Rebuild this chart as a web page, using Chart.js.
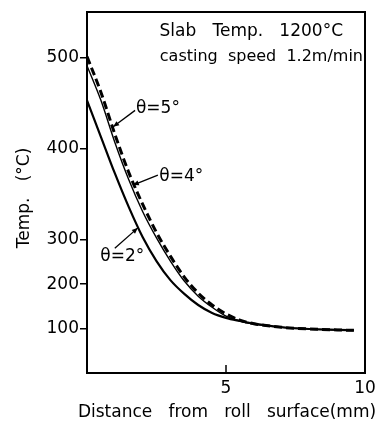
<!DOCTYPE html>
<html>
<head>
<meta charset="utf-8">
<script src="https://cdn.jsdelivr.net/npm/chart.js@4.4.1/dist/chart.umd.min.js"></script>
<style>
  html, body { margin: 0; padding: 0; background: #fff; }
  #wrap { width: 387px; height: 421px; }
</style>
</head>
<body>
<div id="wrap"><canvas id="c" width="387" height="421"></canvas></div>
<script>
// ---- data ----
const distance = [0, 0.5, 1, 1.5, 2, 2.5, 3, 3.5, 4, 4.5, 5, 5.5, 6, 7, 8, 9, 9.6];
const theta2 = [453, 413, 373, 336, 303, 252, 209, 178, 153, 135, 124, 117, 111, 103, 99, 97, 96];
const theta4 = [491, 453, 407, 366, 331, 302, 252, 207, 173, 148, 128, 117, 110, 103, 99, 97, 96];
const theta5 = [501, 462, 416, 374, 339, 308, 263, 216, 180, 153, 133, 119, 111, 103, 99, 97, 96];
const yTicks = [100, 200, 300, 400, 500];
const xTicks = [5, 10];
const seriesNames = ['θ=2°', 'θ=4°', 'θ=5°'];
const noteLines = ['Slab   Temp.   1200°C', 'casting  speed  1.2m/min'];
const xTitle = 'Distance   from   roll   surface(mm)';
const yTitle = 'Temp.   (°C)  ';

// y axis of the original figure is stretched above 300 °C
const Y_BREAK = 300, Y_STRETCH = 2.05;

class BrokenLinearScale extends Chart.LinearScale {
  _t(v) { return v <= Y_BREAK ? v : Y_BREAK + (v - Y_BREAK) * Y_STRETCH; }
  _tInv(t) { return t <= Y_BREAK ? t : Y_BREAK + (t - Y_BREAK) / Y_STRETCH; }
  getPixelForValue(value) {
    if (value === null || value === undefined || isNaN(value)) return NaN;
    const t0 = this._t(this.min), t1 = this._t(this.max);
    return this.getPixelForDecimal((this._t(value) - t0) / (t1 - t0));
  }
  getValueForPixel(pixel) {
    const t0 = this._t(this.min), t1 = this._t(this.max);
    return this._tInv(t0 + this.getDecimalForPixel(pixel) * (t1 - t0));
  }
}
BrokenLinearScale.id = 'brokenLinear';
BrokenLinearScale.defaults = Chart.LinearScale.defaults;
Chart.register(BrokenLinearScale);

// label annotations (data units): arrow tip on the curve, arrow start, text position
const callouts = [
  { text: seriesNames[2], tip: [0.94, 424], from: [1.73, 442], at: [1.76, 444], align: 'left' },
  { text: seriesNames[1], tip: [1.65, 360], from: [2.55, 371], at: [2.6, 369], align: 'left' },
  { text: seriesNames[0], tip: [1.83, 313], from: [1.0, 281], at: [1.27, 261], align: 'center' }
];

const FONT = '"DejaVu Sans", sans-serif';

const decorPlugin = {
  id: 'decor',
  afterDatasetsDraw(chart) {
    const { ctx, chartArea: a, scales: { x, y } } = chart;
    ctx.save();
    // frame
    ctx.strokeStyle = '#000';
    ctx.lineWidth = 2;
    ctx.strokeRect(a.left, a.top, a.right - a.left, a.bottom - a.top);
    // inside x tick at 5
    ctx.lineWidth = 1.5;
    ctx.beginPath();
    const px5 = x.getPixelForValue(xTicks[0]);
    ctx.moveTo(px5, a.bottom);
    ctx.lineTo(px5, a.bottom - 8);
    ctx.stroke();
    // note text
    ctx.fillStyle = '#000';
    ctx.textAlign = 'right';
    ctx.textBaseline = 'middle';
    ctx.font = '17px ' + FONT;
    ctx.fillText(noteLines[0], a.right - 22, a.top + 20);
    ctx.font = '16px ' + FONT;
    ctx.fillText(noteLines[1], a.right - 2, a.top + 45);
    // x axis title (drawn without width clamp)
    ctx.font = '17px ' + FONT;
    ctx.textAlign = 'center';
    ctx.fillText(xTitle, (a.left + a.right) / 2 + 1, chart.height - 8);
    // callouts
    ctx.font = '17px ' + FONT;
    ctx.lineWidth = 1.3;
    callouts.forEach(c => {
      const tx = x.getPixelForValue(c.tip[0]), ty = y.getPixelForValue(c.tip[1]);
      const fx = x.getPixelForValue(c.from[0]), fy = y.getPixelForValue(c.from[1]);
      ctx.beginPath();
      ctx.moveTo(fx, fy);
      ctx.lineTo(tx, ty);
      ctx.stroke();
      const ang = Math.atan2(ty - fy, tx - fx);
      const L = 6, W = 2.5;
      ctx.beginPath();
      ctx.moveTo(tx, ty);
      ctx.lineTo(tx - L * Math.cos(ang) + W * Math.sin(ang), ty - L * Math.sin(ang) - W * Math.cos(ang));
      ctx.lineTo(tx - L * Math.cos(ang) - W * Math.sin(ang), ty - L * Math.sin(ang) + W * Math.cos(ang));
      ctx.closePath();
      ctx.fill();
      ctx.textAlign = c.align;
      ctx.textBaseline = 'middle';
      ctx.fillText(c.text, x.getPixelForValue(c.at[0]), y.getPixelForValue(c.at[1]));
    });
    ctx.restore();
  }
};

const toPts = arr => arr.map((v, i) => ({ x: distance[i], y: v }));

new Chart(document.getElementById('c'), {
  type: 'line',
  data: {
    datasets: [
      { label: seriesNames[0], data: toPts(theta2), borderColor: '#000', borderWidth: 2.2, pointRadius: 0, cubicInterpolationMode: 'monotone', fill: false },
      { label: seriesNames[1], data: toPts(theta4), borderColor: '#000', borderWidth: 1.4, pointRadius: 0, cubicInterpolationMode: 'monotone', fill: false },
      { label: seriesNames[2], data: toPts(theta5), borderColor: '#000', borderWidth: 3, borderDash: [8, 4], pointRadius: 0, cubicInterpolationMode: 'monotone', fill: false }
    ]
  },
  options: {
    responsive: false,
    animation: false,
    events: [],
    layout: { padding: { left: 0, right: 22, top: 12, bottom: 0 } },
    plugins: { legend: { display: false }, tooltip: { enabled: false } },
    scales: {
      x: {
        type: 'linear',
        min: 0, max: 10,
        afterBuildTicks: s => { s.ticks = xTicks.map(v => ({ value: v })); },
        afterFit: s => { s.height = 48; },
        grid: { drawOnChartArea: false, drawTicks: false },
        border: { display: true, color: '#000', width: 2 },
        ticks: { color: '#000', font: { family: FONT, size: 17 }, padding: 5, maxRotation: 0, autoSkip: false },
        title: { display: false }
      },
      y: {
        type: 'brokenLinear',
        min: 0, max: 550,
        afterBuildTicks: s => { s.ticks = yTicks.map(v => ({ value: v })); },
        afterFit: s => { s.width = 87; },
        grid: { drawOnChartArea: false, drawTicks: true, tickLength: 7, color: '#000', lineWidth: 1.5 },
        border: { display: true, color: '#000', width: 2 },
        ticks: { color: '#000', font: { family: FONT, size: 17 }, padding: 1, autoSkip: false, callback: v => String(v) },
        title: { display: true, text: yTitle, color: '#000', font: { family: FONT, size: 17, lineHeight: 1 }, padding: { top: 16, bottom: 0 } }
      }
    }
  },
  plugins: [decorPlugin]
});
</script>
</body>
</html>
